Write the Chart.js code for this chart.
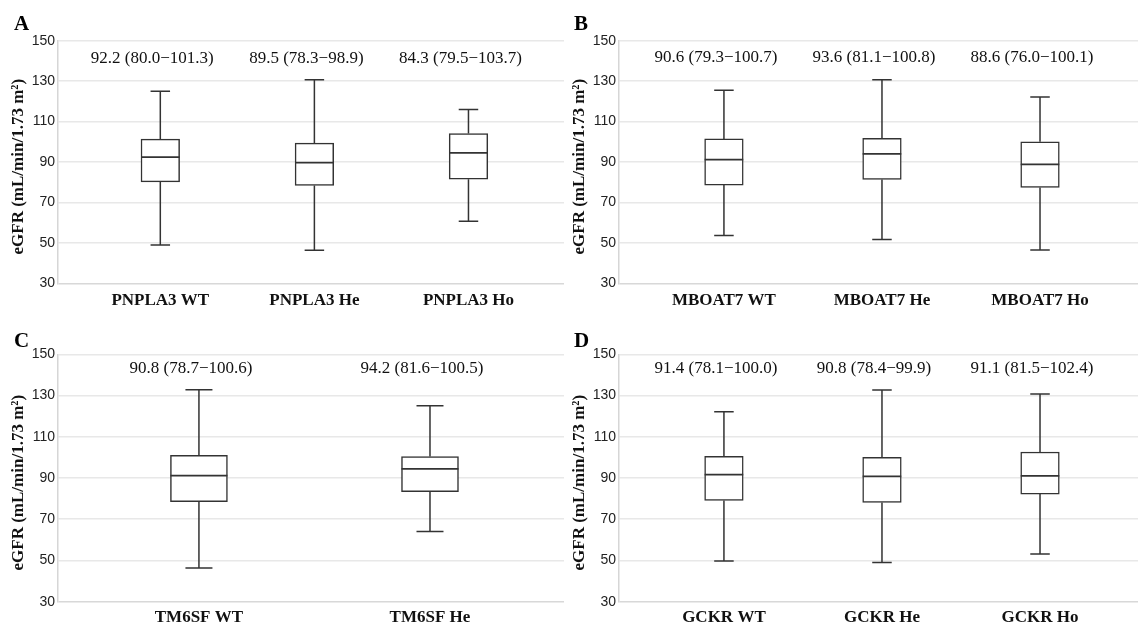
<!DOCTYPE html>
<html>
<head>
<meta charset="utf-8">
<script src="https://cdn.jsdelivr.net/npm/chart.js@4.4.1/dist/chart.umd.min.js"></script>
<style>
  body { margin: 0; background: #fff; width: 1140px; height: 630px; position: relative; overflow: hidden; }
  canvas { position: absolute; }
</style>
</head>
<body>
<canvas id="panelA" width="570" height="315" style="left:0;top:0"></canvas>
<canvas id="panelB" width="578" height="315" style="left:562px;top:0"></canvas>
<canvas id="panelC" width="570" height="315" style="left:0;top:315px"></canvas>
<canvas id="panelD" width="578" height="315" style="left:562px;top:315px"></canvas>
<script>
// Ticks del eje Y (comunes)
const yTicks = [30, 50, 70, 90, 110, 130, 150];

// Panel A - PNPLA3
const catsA = ['PNPLA3 WT', 'PNPLA3 He', 'PNPLA3 Ho'];
const minA = [48.9, 46.4, 60.7];
const q1A = [80.2, 78.4, 81.5];
const medA = [92.4, 89.7, 94.5];
const q3A = [101.3, 99.3, 104.1];
const maxA = [125.0, 130.7, 116.0];
const notasA = ['92.2 (80.0\u2212101.3)', '89.5 (78.3\u221298.9)', '84.3 (79.5\u2212103.7)'];

// Panel B - MBOAT7
const catsB = ['MBOAT7 WT', 'MBOAT7 He', 'MBOAT7 Ho'];
const minB = [53.6, 51.7, 46.5];
const q1B = [78.6, 81.4, 77.4];
const medB = [91.2, 94.0, 88.8];
const q3B = [101.4, 101.7, 100.0];
const maxB = [125.5, 130.7, 122.2];
const notasB = ['90.6 (79.3\u2212100.7)', '93.6 (81.1\u2212100.8)', '88.6 (76.0\u2212100.1)'];

// Panel C - TM6SF
const catsC = ['TM6SF WT', 'TM6SF He'];
const minC = [46.4, 64.0];
const q1C = [78.5, 83.4];
const medC = [91.2, 94.4];
const q3C = [101.0, 100.4];
const maxC = [132.8, 125.0];
const notasC = ['90.8 (78.7\u2212100.6)', '94.2 (81.6\u2212100.5)'];

// Panel D - GCKR
const catsD = ['GCKR WT', 'GCKR He', 'GCKR Ho'];
const minD = [49.8, 49.0, 53.1];
const q1D = [79.1, 78.1, 82.2];
const medD = [91.6, 90.8, 91.0];
const q3D = [100.5, 100.0, 102.6];
const maxD = [122.1, 132.7, 130.7];
const notasD = ['91.4 (78.1\u2212100.0)', '90.8 (78.4\u221299.9)', '91.1 (81.5\u2212102.4)'];

const SERIF = "'Liberation Serif', 'DejaVu Serif', serif";
const SANS = "'Liberation Sans Narrow', 'Liberation Sans', sans-serif";
const LINEA = '#333333';

// Plugin para bigotes, medianas, anotaciones y textos del panel
function crearPlugin(p) {
    return {
        id: 'cajas' + p.letra,
        beforeDatasetsDraw(chart) {
            const xs = chart.scales.x, ys = chart.scales.y, ctx = chart.ctx;
            ctx.save();
            ctx.strokeStyle = LINEA;
            ctx.lineWidth = 1.5;
            ctx.beginPath();
            p.cats.forEach((c, i) => {
                const x = xs.getPixelForValue(i);
                const yLo = ys.getPixelForValue(p.min[i]);
                const yHi = ys.getPixelForValue(p.max[i]);
                ctx.moveTo(x, yLo); ctx.lineTo(x, ys.getPixelForValue(p.q1[i]));
                ctx.moveTo(x, yHi); ctx.lineTo(x, ys.getPixelForValue(p.q3[i]));
                ctx.moveTo(x - p.cap / 2, yLo); ctx.lineTo(x + p.cap / 2, yLo);
                ctx.moveTo(x - p.cap / 2, yHi); ctx.lineTo(x + p.cap / 2, yHi);
            });
            ctx.stroke();
            ctx.restore();
        },
        afterDatasetsDraw(chart) {
            const xs = chart.scales.x, ys = chart.scales.y, ctx = chart.ctx;
            ctx.save();
            ctx.strokeStyle = LINEA;
            ctx.lineWidth = 1.7;
            ctx.beginPath();
            p.cats.forEach((c, i) => {
                const x = xs.getPixelForValue(i);
                const y = ys.getPixelForValue(p.med[i]);
                ctx.moveTo(x - p.caja / 2, y); ctx.lineTo(x + p.caja / 2, y);
            });
            ctx.stroke();

            // anotaciones mediana (RIC)
            ctx.fillStyle = '#111';
            ctx.font = '17px ' + SERIF;
            ctx.textAlign = 'center';
            ctx.textBaseline = 'middle';
            p.notas.forEach((n, i) => {
                ctx.fillText(n, xs.getPixelForValue(i) - 8, ys.getPixelForValue(p.notaY));
            });

            // titulo del eje Y
            const area = chart.chartArea;
            ctx.save();
            ctx.translate(p.tituloX, (area.top + area.bottom) / 2 + 4.7);
            ctx.rotate(-Math.PI / 2);
            ctx.font = 'bold 17px ' + SERIF;
            ctx.fillText('eGFR (mL/min/1.73 m\u00B2)', 0, 0);
            ctx.restore();

            // letra del panel
            ctx.font = 'bold 21px ' + SERIF;
            ctx.textAlign = 'left';
            ctx.textBaseline = 'alphabetic';
            ctx.fillStyle = '#000';
            ctx.fillText(p.letra, p.letraX, p.letraY);
            ctx.restore();
        }
    };
}

function crearPanel(id, p) {
    const ctx = document.getElementById(id).getContext('2d');
    return new Chart(ctx, {
        type: 'bar',
        data: {
            datasets: [{
                data: p.cats.map((c, i) => ({ x: i, y: [p.q1[i], p.q3[i]] })),
                backgroundColor: '#ffffff',
                borderColor: LINEA,
                borderWidth: 1.5,
                borderSkipped: false,
                barThickness: p.caja
            }]
        },
        options: {
            responsive: false,
            animation: false,
            devicePixelRatio: 1,
            layout: { padding: { left: 0, top: p.arriba, right: p.derecha, bottom: 0 } },
            plugins: { legend: { display: false }, tooltip: { enabled: false } },
            scales: {
                x: {
                    type: 'linear',
                    offset: false,
                    min: p.xMin,
                    max: p.xMax,
                    grid: { display: false, offset: false, drawTicks: false },
                    border: { display: false },
                    afterBuildTicks: s => { s.ticks = p.cats.map((c, i) => ({ value: i })); },
                    afterFit: s => { s.height = p.altoX; },
                    ticks: {
                        autoSkip: false,
                        maxRotation: 0,
                        padding: p.padX,
                        color: '#111',
                        font: { family: SERIF, size: 17, weight: 'bold' },
                        callback: v => p.cats[v]
                    }
                },
                y: {
                    min: 30,
                    max: 150,
                    afterBuildTicks: s => { s.ticks = yTicks.map(v => ({ value: v })); },
                    afterFit: s => { s.width = p.anchoY; },
                    grid: {
                        drawTicks: false,
                        lineWidth: 1.5,
                        color: c => (c.tick && c.tick.value === 30) ? '#d8d8d8' : '#e8e8e8'
                    },
                    border: { display: true, color: '#d6d6d6', width: 1.5 },
                    ticks: {
                        padding: 3,
                        color: '#222',
                        font: { family: SANS, size: 14 }
                    }
                }
            }
        },
        plugins: [crearPlugin(p)]
    });
}

const arriba3 = { xMin: -0.664, xMax: 2.62, caja: 38.6, cap: 19.5 };

crearPanel('panelA', Object.assign({}, arriba3, {
    cats: catsA, min: minA, q1: q1A, med: medA, q3: q3A, max: maxA, notas: notasA,
    anchoY: 58, arriba: 40.7, altoX: 31.7, derecha: 6, padX: 7, notaY: 141.3,
    letra: 'A', letraX: 14, letraY: 29.5, tituloX: 18.5
}));
crearPanel('panelB', Object.assign({}, arriba3, {
    cats: catsB, min: minB, q1: q1B, med: medB, q3: q3B, max: maxB, notas: notasB,
    anchoY: 57, arriba: 40.7, altoX: 31.7, derecha: 2, padX: 7, notaY: 141.5,
    letra: 'B', letraX: 12, letraY: 29.5, tituloX: 18
}));
crearPanel('panelC', {
    cats: catsC, min: minC, q1: q1C, med: medC, q3: q3C, max: maxC, notas: notasC,
    xMin: -0.61, xMax: 1.58, caja: 57, cap: 27,
    anchoY: 58, arriba: 39.3, altoX: 28.3, derecha: 6, padX: 6, notaY: 143.2,
    letra: 'C', letraX: 14, letraY: 31.5, tituloX: 18.5
});
crearPanel('panelD', Object.assign({}, arriba3, {
    cats: catsD, min: minD, q1: q1D, med: medD, q3: q3D, max: maxD, notas: notasD,
    anchoY: 57, arriba: 39.3, altoX: 28.3, derecha: 2, padX: 6, notaY: 143.2,
    letra: 'D', letraX: 12, letraY: 31.5, tituloX: 18
}));
</script>
</body>
</html>
